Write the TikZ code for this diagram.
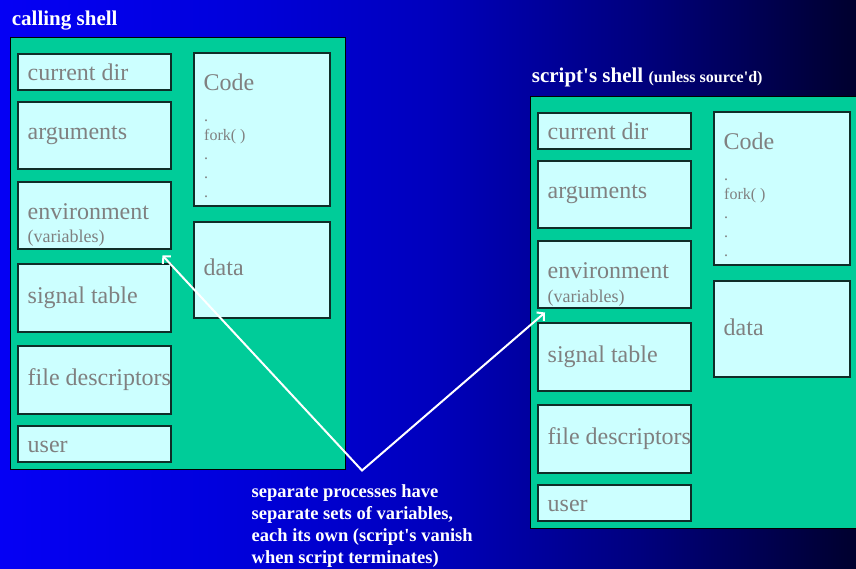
\documentclass[tikz,border=0pt]{standalone}
\usepackage{fontspec}
\newfontfamily\slidefont{Liberation Serif}
\usetikzlibrary{arrows.meta}

\definecolor{panelgreen}{RGB}{0,204,153}
\definecolor{cellcyan}{RGB}{204,255,255}
\definecolor{celltext}{RGB}{128,128,128}
\definecolor{edgedark}{RGB}{15,45,40}

% blue-to-navy slide background, left to right
\pgfdeclarehorizontalshading{slidebg}{100bp}{%
  rgb(0bp)=(0.02,0.0,0.96); rgb(25bp)=(0.02,0.0,0.96);
  rgb(37.5bp)=(0,0,0.87); rgb(50bp)=(0,0,0.745);
  rgb(62.5bp)=(0,0,0.49); rgb(75bp)=(0,0,0.18); rgb(100bp)=(0,0,0.18)}

\tikzset{
  panel/.style={draw=black, line width=1pt, fill=panelgreen, anchor=north west, inner sep=0pt, outer sep=0pt},
  cell/.style={draw=edgedark, line width=1.3pt, fill=cellcyan, anchor=north west, inner sep=0pt, outer sep=0pt},
  celllabel/.style={anchor=base west, inner sep=0pt, text=celltext, font=\slidefont\fontsize{24}{28}\selectfont},
  subnote/.style={anchor=base west, inner sep=0pt, text=celltext, font=\slidefont\fontsize{18}{21}\selectfont},
  codeline/.style={anchor=base west, inner sep=0pt, text=celltext, font=\slidefont\fontsize{16}{19}\selectfont},
  heading/.style={anchor=base west, inner sep=0pt, text=white, font=\slidefont\bfseries\fontsize{21}{25}\selectfont},
  remark/.style={anchor=north west, inner sep=0pt, text=white, align=left, font=\slidefont\bfseries\fontsize{18.5}{22}\selectfont},
  pointer/.style={draw=white, line width=2pt, line join=miter,
    {Straight Barb[length=5pt,width=11pt]}-{Straight Barb[length=5pt,width=11pt]}}
}

% one process image: frame, per-process tables, code and data
\newcommand{\shellpanel}{%
  \node[panel, minimum width=335pt, minimum height=431pt] (frame) at (10,38) {};
  \node[cell, minimum width=153pt, minimum height=36pt] (cd)   at (18,54)  {};
  \node[cell, minimum width=153pt, minimum height=67pt] (args) at (18,102) {};
  \node[cell, minimum width=153pt, minimum height=67pt] (env)  at (18,182) {};
  \node[cell, minimum width=153pt, minimum height=68pt] (sig)  at (18,264) {};
  \node[cell, minimum width=153pt, minimum height=68pt] (fd)   at (18,346) {};
  \node[cell, minimum width=153pt, minimum height=36pt] (usr)  at (18,426) {};
  \node[cell, minimum width=136pt, minimum height=153pt] (code) at (194,53) {};
  \node[cell, minimum width=136pt, minimum height=96pt]  (data) at (194,222) {};
  \node[celllabel] (cd-t)   at (27.5,81)  {current dir};
  \node[celllabel] (args-t) at (27.5,140) {arguments};
  \node[celllabel] (env-t)  at (27.5,220) {environment};
  \node[subnote]   (env-s)  at (27.5,243) {(variables)};
  \node[celllabel] (sig-t)  at (27.5,303) {signal table};
  \node[celllabel] (fd-t)   at (27.5,385) {file descriptors};
  \node[celllabel] (usr-t)  at (27.5,452) {user};
  \node[celllabel] (code-t) at (203.5,91) {Code};
  \node[codeline]  (code-a) at (204,122)  {.};
  \node[codeline]  (code-b) at (204,141)  {fork( )};
  \node[codeline]  (code-c) at (204,160)  {.};
  \node[codeline]  (code-d) at (204,179)  {.};
  \node[codeline]  (code-e) at (204,198)  {.};
  \node[celllabel] (data-t) at (203.5,276) {data};
}

\begin{document}
\begin{tikzpicture}[x=1pt, y=-1pt]
  \useasboundingbox (0,0) rectangle (856,569);
  \shade[shading=slidebg] (0,0) rectangle (856,569);
  \begin{scope}
    \clip (0,0) rectangle (856,569);

    % calling shell
    \begin{scope}[name prefix=L-]
      \shellpanel
    \end{scope}
    \node[heading] (L-title) at (11.7,26) {calling shell};

    % script's shell
    \begin{scope}[shift={(520,59)}, name prefix=R-]
      \shellpanel
    \end{scope}
    \node[heading] (R-title) at (531.7,83)
      {script's shell {\fontsize{16}{19}\selectfont (unless source'd)}};

    % pointers from the note to both environments
    \coordinate (apex) at (362,470.5);
    \coordinate (L-tip) at (162.5,255.5);
    \coordinate (R-tip) at (545,312.5);
    \draw[pointer] (L-tip) -- (apex) -- (R-tip);

    \node[remark] (note) at (251.5,484.5)
      {separate processes have\\separate sets of variables,\\each its own (script's vanish\\when script terminates)};
  \end{scope}
\end{tikzpicture}
\end{document}
